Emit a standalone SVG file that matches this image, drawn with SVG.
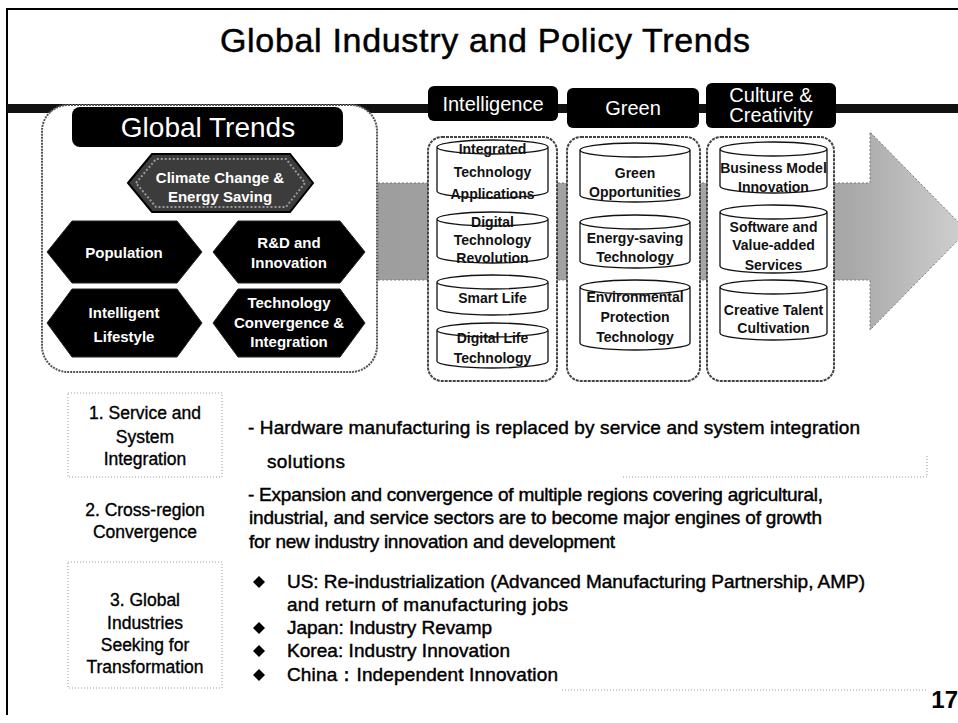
<svg xmlns="http://www.w3.org/2000/svg" width="958" height="723" viewBox="0 0 958 723">
<style>
text{font-family:"Liberation Sans",Arial,sans-serif}
.body{font-size:19px;fill:#000;stroke:#000;stroke-width:0.45}
.lbl{font-size:17.5px;fill:#000;stroke:#000;stroke-width:0.35;text-anchor:middle}
.cyl{fill:#fff;stroke:#111;stroke-width:1.3}
.ct{font-size:14px;font-weight:bold;fill:#111;text-anchor:middle}
.hex{fill:#000;stroke:#222;stroke-width:1}
.ht{font-size:15px;font-weight:bold;fill:#fff;text-anchor:middle}
.tab{fill:#000}
.tt{font-size:20px;fill:#fff;text-anchor:middle}
.col{fill:#fff;stroke:#444;stroke-width:2;stroke-dasharray:3 1}
.dbox{fill:none;stroke:#999;stroke-width:1;stroke-dasharray:1 2}
</style>
<defs>
<linearGradient id="arrowFill" x1="0" y1="0" x2="1" y2="0">
<stop offset="0" stop-color="#9e9e9e"/>
<stop offset="0.8" stop-color="#a8a8a8"/>
<stop offset="1" stop-color="#d0d0d0"/>
</linearGradient>
</defs>
<rect width="958" height="723" fill="#fff"/>
<g id="frame">
<path d="M7 715 L7 9 L958 9" fill="none" stroke="#000" stroke-width="2"/>
<rect x="7" y="104" width="951" height="9" fill="#111"/>
</g>
<g id="title">
<text x="220" y="52" font-size="34" textLength="530" stroke="#000" stroke-width="0.5">Global Industry and Policy Trends</text>
</g>
<g id="connectors">
<polygon points="378,183 870,183 870,132 967,231 870,330 870,280 378,280" fill="url(#arrowFill)" stroke="#777" stroke-width="1" stroke-dasharray="2 2"/>
</g>
<g id="global-trends">
<rect x="42" y="105" width="335" height="267" rx="26" fill="#fff" stroke="#555" stroke-width="2" stroke-dasharray="2 1"/>
<rect x="72" y="107" width="271" height="40" rx="8" fill="#000"/>
<text x="208" y="137" font-size="28" fill="#fff" text-anchor="middle">Global Trends</text>
</g>
<g id="hex-climate">
<polygon points="128,183 152,154 290,154 313,183 290,212 152,212" fill="#3c3c3c" stroke="#000" stroke-width="2"/>
<polygon points="136,183 156,159 286,159 305,183 286,207 156,207" fill="none" stroke="#999" stroke-width="2" stroke-dasharray="2 2"/>
<text class="ht" x="220" y="183" font-size="14">Climate Change &amp;</text>
<text class="ht" x="220" y="202" font-size="14">Energy Saving</text>
</g>
<g id="hex-population">
<polygon class="hex" points="47,252 72,221 177,221 202,252 177,283 72,283"/>
<text class="ht" x="124" y="258">Population</text>
</g>
<g id="hex-rd">
<polygon class="hex" points="213,252 238,221 340,221 365,252 340,283 238,283"/>
<text class="ht" x="289" y="248">R&amp;D and</text>
<text class="ht" x="289" y="268">Innovation</text>
</g>
<g id="hex-intelligent">
<polygon class="hex" points="47,323 72,289 177,289 202,323 177,357 72,357"/>
<text class="ht" x="124" y="318">Intelligent</text>
<text class="ht" x="124" y="342">Lifestyle</text>
</g>
<g id="hex-tech">
<polygon class="hex" points="213,323 238,289 340,289 365,323 340,357 238,357"/>
<text class="ht" x="289" y="308" font-size="14">Technology</text>
<text class="ht" x="289" y="328" font-size="14">Convergence &amp;</text>
<text class="ht" x="289" y="347" font-size="14">Integration</text>
</g>
<g id="tab-intelligence">
<rect class="tab" x="428" y="86" width="130" height="35" rx="6"/>
<text class="tt" x="493" y="111">Intelligence</text>
</g>
<g id="tab-green">
<rect class="tab" x="567" y="88" width="132" height="40" rx="6"/>
<text class="tt" x="633" y="115">Green</text>
</g>
<g id="tab-culture">
<rect class="tab" x="706" y="83" width="130" height="45" rx="6"/>
<text class="tt" x="771" y="102" font-size="19">Culture &amp;</text>
<text class="tt" x="771" y="122" font-size="19">Creativity</text>
</g>
<g id="col-intelligence">
<rect class="col" x="428" y="137" width="129" height="244" rx="14"/>
</g>
<g id="col-green">
<rect class="col" x="567" y="137" width="133" height="244" rx="14"/>
</g>
<g id="col-culture">
<rect class="col" x="707" y="137" width="127" height="244" rx="14"/>
</g>
<g id="cyl-integrated">
<path class="cyl" d="M437 147 A55.5 7 0 0 1 548 147 L548 191 A55.5 7 0 0 1 437 191 Z M437 147 A55.5 7 0 0 0 548 147"/>
<text class="ct" x="492.5" y="154">Integrated</text>
<text class="ct" x="492.5" y="177">Technology</text>
<text class="ct" x="492.5" y="199">Applications</text>
</g>
<g id="cyl-digital">
<path class="cyl" d="M437 219 A55.5 7 0 0 1 548 219 L548 256 A55.5 7 0 0 1 437 256 Z M437 219 A55.5 7 0 0 0 548 219"/>
<text class="ct" x="492.5" y="227">Digital</text>
<text class="ct" x="492.5" y="245">Technology</text>
<text class="ct" x="492.5" y="263">Revolution</text>
</g>
<g id="cyl-smart">
<path class="cyl" d="M437 282 A55.5 7 0 0 1 548 282 L548 308 A55.5 7 0 0 1 437 308 Z M437 282 A55.5 7 0 0 0 548 282"/>
<text class="ct" x="492.5" y="303">Smart Life</text>
</g>
<g id="cyl-digitallife">
<path class="cyl" d="M437 330 A55.5 7 0 0 1 548 330 L548 361 A55.5 7 0 0 1 437 361 Z M437 330 A55.5 7 0 0 0 548 330"/>
<text class="ct" x="492.5" y="343">Digital Life</text>
<text class="ct" x="492.5" y="363">Technology</text>
</g>
<g id="cyl-green">
<path class="cyl" d="M580 150 A55 7 0 0 1 690 150 L690 195 A55 7 0 0 1 580 195 Z M580 150 A55 7 0 0 0 690 150"/>
<text class="ct" x="635" y="178">Green</text>
<text class="ct" x="635" y="197">Opportunities</text>
</g>
<g id="cyl-energy">
<path class="cyl" d="M580 222 A55 7 0 0 1 690 222 L690 261 A55 7 0 0 1 580 261 Z M580 222 A55 7 0 0 0 690 222"/>
<text class="ct" x="635" y="243">Energy-saving</text>
<text class="ct" x="635" y="262">Technology</text>
</g>
<g id="cyl-env">
<path class="cyl" d="M580 287 A55 7 0 0 1 690 287 L690 343 A55 7 0 0 1 580 343 Z M580 287 A55 7 0 0 0 690 287"/>
<text class="ct" x="635" y="302">Environmental</text>
<text class="ct" x="635" y="322">Protection</text>
<text class="ct" x="635" y="342">Technology</text>
</g>
<g id="cyl-business">
<path class="cyl" d="M720 149 A53.5 7 0 0 1 827 149 L827 186 A53.5 7 0 0 1 720 186 Z M720 149 A53.5 7 0 0 0 827 149"/>
<text class="ct" x="773.5" y="173">Business Model</text>
<text class="ct" x="773.5" y="192">Innovation</text>
</g>
<g id="cyl-software">
<path class="cyl" d="M720 212 A53.5 7 0 0 1 827 212 L827 266 A53.5 7 0 0 1 720 266 Z M720 212 A53.5 7 0 0 0 827 212"/>
<text class="ct" x="773.5" y="232">Software and</text>
<text class="ct" x="773.5" y="250">Value-added</text>
<text class="ct" x="773.5" y="270">Services</text>
</g>
<g id="cyl-creative">
<path class="cyl" d="M720 287 A53.5 7 0 0 1 827 287 L827 333 A53.5 7 0 0 1 720 333 Z M720 287 A53.5 7 0 0 0 827 287"/>
<text class="ct" x="773.5" y="315">Creative Talent</text>
<text class="ct" x="773.5" y="333">Cultivation</text>
</g>
<g id="item-1">
<rect class="dbox" x="68" y="393" width="154" height="84"/>
<path class="dbox" d="M623 477 L927 477 L927 455"/>
<text class="lbl" x="145" y="419">1. Service and</text>
<text class="lbl" x="145" y="443">System</text>
<text class="lbl" x="145" y="465">Integration</text>
<text class="body" x="248" y="434" textLength="612">- Hardware manufacturing is replaced by service and system integration</text>
<text class="body" x="267" y="468" textLength="78">solutions</text>
</g>
<g id="item-2">
<text class="lbl" x="145" y="516">2. Cross-region</text>
<text class="lbl" x="145" y="538">Convergence</text>
<text class="body" x="248" y="501" textLength="575">- Expansion and convergence of multiple regions covering agricultural,</text>
<text class="body" x="249" y="524" textLength="573">industrial, and service sectors are to become major engines of growth</text>
<text class="body" x="249" y="548" textLength="366">for new industry innovation and development</text>
</g>
<g id="item-3">
<rect class="dbox" x="68" y="562" width="154" height="126"/>
<text class="lbl" x="145" y="606">3. Global</text>
<text class="lbl" x="145" y="629">Industries</text>
<text class="lbl" x="145" y="651">Seeking for</text>
<text class="lbl" x="145" y="673">Transformation</text>
<g fill="#000">
<polygon points="259,576 265,582 259,588 253,582"/>
<polygon points="259,622 265,628 259,634 253,628"/>
<polygon points="259,645 265,651 259,657 253,651"/>
<polygon points="259,669 265,675 259,681 253,675"/>
</g>
<text class="body" x="287" y="588" textLength="578">US: Re-industrialization (Advanced Manufacturing Partnership, AMP)</text>
<text class="body" x="287" y="611" textLength="281">and return of manufacturing jobs</text>
<text class="body" x="287" y="634" textLength="205">Japan: Industry Revamp</text>
<text class="body" x="287" y="657" textLength="223">Korea: Industry Innovation</text>
<text class="body" x="287" y="681" textLength="271">China：Independent Innovation</text>
<path class="dbox" d="M562 690 L928 690"/>
</g>
<g id="page-number">
<text x="958" y="708" font-size="24" font-weight="bold" text-anchor="end">17</text>
</g>
</svg>
